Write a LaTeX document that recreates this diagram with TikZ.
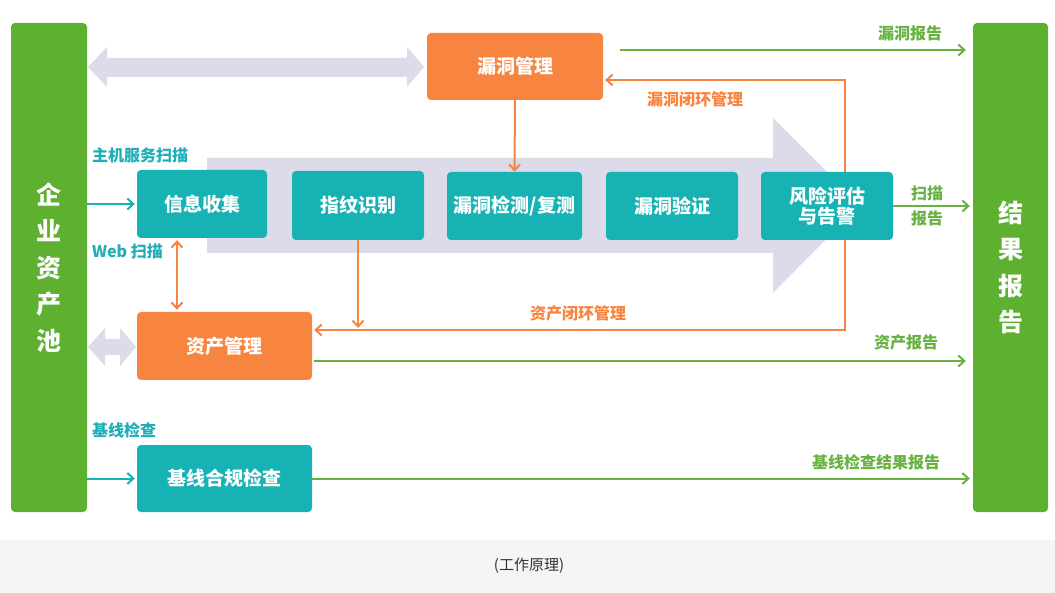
\documentclass[tikz,border=0pt]{standalone}
\usepackage{fontspec}
\setmainfont{Noto Sans CJK SC}
\usetikzlibrary{arrows.meta,calc}
\definecolor{bargreen}{HTML}{5DB030}
\definecolor{lgreen}{HTML}{68B241}
\definecolor{orng}{HTML}{F7843F}
\definecolor{teal2}{HTML}{17B2B4}
\definecolor{lav}{HTML}{DDDAE9}
\definecolor{lblteal}{HTML}{1FAEB8}
\definecolor{capbg}{HTML}{F5F5F5}
\definecolor{captxt}{HTML}{333333}
\begin{document}
\begin{tikzpicture}[x=1pt,y=-1pt,
  tbox/.style={fill=teal2, rounded corners=4pt, text=white, font=\fontsize{19}{23}\selectfont\bfseries, align=center, inner sep=0pt},
  obox/.style={tbox, fill=orng},
  gbar/.style={fill=bargreen, rounded corners=4pt, text=white, font=\fontsize{25}{36.5}\selectfont\bfseries, align=center, inner sep=0pt},
  lbl/.style={font=\fontsize{16}{18}\selectfont\bfseries, inner sep=0pt, align=center},
  tipbarb/.style={-{Straight Barb[length=6pt,width=11pt]}},
  garr/.style={draw=lgreen, line width=2pt, tipbarb},
  oarr/.style={draw=orng, line width=2pt, tipbarb},
  tarr/.style={draw=teal2, line width=2pt, tipbarb},
  lavshape/.style={fill=lav, draw=none}]
% canvas
\fill[white] (0,0) rectangle (1055,540);
\fill[capbg] (0,540) rectangle (1055,593);
\useasboundingbox (0,0) rectangle (1055,593);
% lavender shapes
\path[lavshape] (207,158) -- (773,158) -- (773,118) -- (860,205) -- (773,293) -- (773,253) -- (207,253) -- cycle;
\path[lavshape] (88,67) -- (107,47) -- (107,58) -- (407,58) -- (407,47) -- (424,67) -- (407,87) -- (407,77) -- (107,77) -- (107,87) -- cycle;
\path[lavshape] (88,347) -- (105,328) -- (105,339) -- (120,339) -- (120,328) -- (136,347) -- (120,366) -- (120,355) -- (105,355) -- (105,366) -- cycle;
% bars
\node[gbar, minimum width=76pt, minimum height=489pt] (lbar) at (49,267.5) {企\\业\\资\\产\\池};
\node[gbar, minimum width=75pt, minimum height=489pt] (rbar) at (1010.5,267.5) {结\\果\\报\\告};
% boxes
\node[obox, minimum width=176pt, minimum height=67pt] (vm) at (515,66.5) {漏洞管理};
\node[tbox, minimum width=130pt, minimum height=68pt] (info) at (202,204) {信息收集};
\node[tbox, minimum width=132pt, minimum height=69pt] (fp) at (358,205.5) {指纹识别};
\node[tbox, minimum width=135pt, minimum height=68pt] (vd) at (514.5,206) {漏洞检测/复测};
\node[tbox, minimum width=132pt, minimum height=68pt] (vv) at (672,206) {漏洞验证};
\node[tbox, minimum width=132pt, minimum height=68pt] (risk) at (827,206) {风险评估\\[-3pt]与告警};
\node[obox, minimum width=175pt, minimum height=68pt] (am) at (224.5,346) {资产管理};
\node[tbox, minimum width=175pt, minimum height=67pt] (bl) at (224.5,478.5) {基线合规检查};
% labels
\node[lbl, text=lblteal, anchor=west] (lhost) at (92,155) {主机服务扫描};
\node[lbl, text=lblteal, anchor=west] (lweb) at (92,251) {Web 扫描};
\node[lbl, text=lblteal, anchor=west] (lbase) at (92,430) {基线检查};
\node[lbl, text=lgreen] (lvr) at (910,33) {漏洞报告};
\node[lbl, text=orng] (lvloop) at (695,99) {漏洞闭环管理};
\node[lbl, text=lgreen, font=\fontsize{16}{25}\selectfont\bfseries] (lscan) at (927,206) {扫描\\报告};
\node[lbl, text=orng] (laloop) at (578,313) {资产闭环管理};
\node[lbl, text=lgreen] (lar) at (906,342) {资产报告};
\node[lbl, text=lgreen] (lbr) at (876,462) {基线检查结果报告};
\node[font=\fontsize{15}{17}\selectfont, text=captxt, inner sep=0pt] (cap) at (529,566) {(工作原理)};
% coordinates
\coordinate (g1) at ($(vm.east)+(17,-16.5)$);
\coordinate (g3) at ($(am.east)+(2,15)$);
\coordinate (loopy) at ($(am.east)+(0,-16)$);
\coordinate (riskTop) at ($(risk.north)+(18,0)$);
\coordinate (riskBot) at ($(risk.south)+(18,0)$);
\coordinate (vmIn) at ($(vm.east)+(2,13.5)$);
% teal inputs
\draw[tarr, shorten >=2pt] (lbar.east |- info.west) -- (info.west);
\draw[tarr, shorten >=2pt] (lbar.east |- bl.west) -- (bl.west);
% orange connectors
\draw[oarr] (vm.south) -- (vd.north);
\draw[oarr] (riskTop) |- (vmIn);
\draw[oarr, shorten >=2pt] (riskBot) |- (loopy);
\draw[oarr, shorten >=2pt] (fp.south) -- (fp.south |- loopy);
\draw[draw=orng, line width=2pt, {Straight Barb[length=6pt,width=11pt]}-{Straight Barb[length=6pt,width=11pt]}, shorten <=2pt, shorten >=2pt] ($(info.south)+(-25,0)$) -- ($(am.north)+(-47.5,0)$);
% green outputs
\draw[garr, shorten >=7pt] (g1) -- (g1 -| rbar.west);
\draw[garr, shorten >=3pt] (risk.east) -- (risk.east -| rbar.west);
\draw[garr, shorten >=7pt] (g3) -- (g3 -| rbar.west);
\draw[garr, shorten >=3pt] (bl.east) -- (bl.east -| rbar.west);
\end{tikzpicture}
\end{document}
